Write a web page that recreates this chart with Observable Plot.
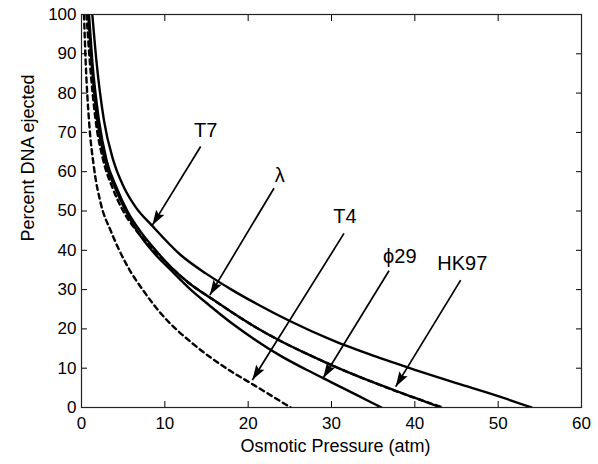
<!DOCTYPE html>
<html><head><meta charset="utf-8">
<script src="https://cdn.jsdelivr.net/npm/d3@7"></script>
<script src="https://cdn.jsdelivr.net/npm/@observablehq/plot@0.6"></script>
<style>body{margin:0;background:#fff} svg{display:block}</style>
</head><body><div id="chart"></div>
<script>
// Curves (x = osmotic pressure in atm, y = percent DNA ejected)
const t7X  = [1.3, 1.8, 2.7, 3.8, 5.1, 6.5, 8.5, 11.9, 15, 18, 21, 25, 30, 35, 40, 45, 50, 54];
const t7Y  = [100, 88, 73, 63, 56, 51, 46.2, 38.8, 34, 30, 26.4, 22, 17.2, 13.2, 9.6, 6.2, 2.9, 0];
const lamX = [0.9, 1.3, 2.1, 3.0, 4.2, 5.5, 7, 8.5, 10.7, 13, 15.4, 18, 21, 24, 27, 30, 33, 36, 39, 41, 43.1];
const lamY = [100, 88, 73, 63, 56, 50, 45, 41, 35.8, 31.5, 28, 24.3, 20.3, 16.8, 13.7, 10.8, 8.1, 5.6, 3.2, 1.7, 0];
const hkX  = [0.6, 1.0, 1.7, 2.6, 3.7, 5.0, 6.6, 8.3, 10.7, 13, 15.4, 18, 21, 24, 27, 30, 33, 36, 39, 41, 43.4];
const hkY  = [100, 88, 73, 63, 56, 50, 45, 41, 35.8, 31.5, 28, 24.3, 20.3, 16.8, 13.7, 10.8, 8.1, 5.6, 3.2, 1.7, 0];
const phiX = [0.8, 1.2, 1.9, 2.8, 4.0, 5.3, 6.8, 8.5, 10.7, 13, 15.4, 18, 21, 24, 27, 30, 33, 36];
const phiY = [100, 88, 73, 63, 56, 50, 44.5, 39.8, 35, 30.2, 25.9, 21.5, 17, 13, 9.6, 6.4, 3.2, 0];
const t4X  = [0.3, 0.5, 0.9, 1.5, 2.3, 3.5, 5.5, 7.5, 9.5, 13.5, 17.5, 20.7, 25.1];
const t4Y  = [100, 88, 73, 61, 52, 45, 36, 29.5, 24, 16, 9.8, 5.7, 0];

// Annotations
const labelNames = ["T7", "λ", "T4", "ϕ29", "HK97"];
const labelX = [14.9, 23.8, 31.6, 38.2, 45.7];
const labelY = [70.4, 58.9, 48.6, 38.5, 36.5];
const arrowX1 = [14.3, 23.1, 31.5, 36.9, 45.5];
const arrowY1 = [66.4, 55.8, 44.3, 34.8, 32.4];
const arrowX2 = [8.5, 15.4, 20.5, 29.0, 37.7];
const arrowY2 = [46.4, 28.6, 7.0, 7.5, 5.3];

const xTicks = [0, 10, 20, 30, 40, 50, 60];
const yTicks = [0, 10, 20, 30, 40, 50, 60, 70, 80, 90, 100];

const W = 598, H = 464, ML = 81, MR = 17, MT = 14, MB = 57;
const kx = (W - ML - MR) / 60, ky = (H - MT - MB) / 100;

const series = [
  {name: "T7", xs: t7X, ys: t7Y, dashed: false},
  {name: "λ", xs: lamX, ys: lamY, dashed: false},
  {name: "ϕ29", xs: phiX, ys: phiY, dashed: false},
  {name: "HK97", xs: hkX, ys: hkY, dashed: true},
  {name: "T4", xs: t4X, ys: t4Y, dashed: true}
];
const rows = series.flatMap(s => s.xs.map((x, i) => ({name: s.name, x, y: s.ys[i], dashed: s.dashed})));
const solid = rows.filter(d => !d.dashed);
const dashed = rows.filter(d => d.dashed);

const arrows = labelNames.map((n, i) => {
  const dxp = (arrowX2[i] - arrowX1[i]) * kx;
  const dyp = -(arrowY2[i] - arrowY1[i]) * ky;
  return {name: n, x1: arrowX1[i], y1: arrowY1[i], x2: arrowX2[i], y2: arrowY2[i],
          angle: Math.atan2(dxp, -dyp) * 180 / Math.PI};
});
const labels = labelNames.map((n, i) => ({name: n, x: labelX[i], y: labelY[i]}));

const head = {draw(ctx) { ctx.moveTo(0, 0); ctx.lineTo(-4.8, 15); ctx.lineTo(0, 12.5); ctx.lineTo(4.8, 15); ctx.closePath(); }};

const font = "'Liberation Sans', Arial, Helvetica, sans-serif";

const chart = Plot.plot({
  width: W, height: H, marginLeft: ML, marginRight: MR, marginTop: MT, marginBottom: MB,
  x: {domain: [0, 60]},
  y: {domain: [0, 100]},
  style: {fontFamily: font, fontSize: "16px", color: "#000", background: "#fff"},
  marks: [
    Plot.line(solid, {x: "x", y: "y", z: "name", stroke: "#000", strokeWidth: 2.4, curve: "monotone-x", clip: true}),
    Plot.line(dashed, {x: "x", y: "y", z: "name", stroke: "#000", strokeWidth: 2.4, strokeDasharray: "5,4", curve: "monotone-x", clip: true}),
    Plot.link(arrows, {x1: "x1", y1: "y1", x2: "x2", y2: "y2", stroke: "#000", strokeWidth: 1.7}),
    Plot.dot(arrows, {x: "x2", y: "y2", symbol: head, rotate: "angle", fill: "#000", stroke: "none", r: 5}),
    Plot.text(labels, {x: "x", y: "y", text: "name", fontSize: 20, fill: "#000"}),
    Plot.axisX({anchor: "bottom", ticks: xTicks, tickSize: -6, tickFormat: () => "", label: null}),
    Plot.axisX({anchor: "top", ticks: xTicks, tickSize: -6, tickFormat: () => "", label: null}),
    Plot.axisY({anchor: "left", ticks: yTicks, tickSize: -6, tickFormat: () => "", label: null}),
    Plot.axisY({anchor: "right", ticks: yTicks, tickSize: -6, tickFormat: () => "", label: null}),
    Plot.axisX({anchor: "bottom", ticks: xTicks, tickSize: 0, tickPadding: 9, fontSize: 17, label: null}),
    Plot.axisY({anchor: "left", ticks: yTicks, tickSize: 0, tickPadding: 5, fontSize: 17, label: null}),
    Plot.frame({stroke: "#222", strokeWidth: 1.2}),
    Plot.text(["Osmotic Pressure (atm)"], {frameAnchor: "bottom", textAnchor: "middle", lineAnchor: "middle", dx: 4, dy: 39, fontSize: 18, fill: "#000"}),
    Plot.text(["Percent DNA ejected"], {frameAnchor: "left", textAnchor: "middle", lineAnchor: "middle", dx: -53, dy: -53, rotate: -90, fontSize: 18, fill: "#000"})
  ]
});
document.getElementById("chart").appendChild(chart);
</script>
</body></html>
